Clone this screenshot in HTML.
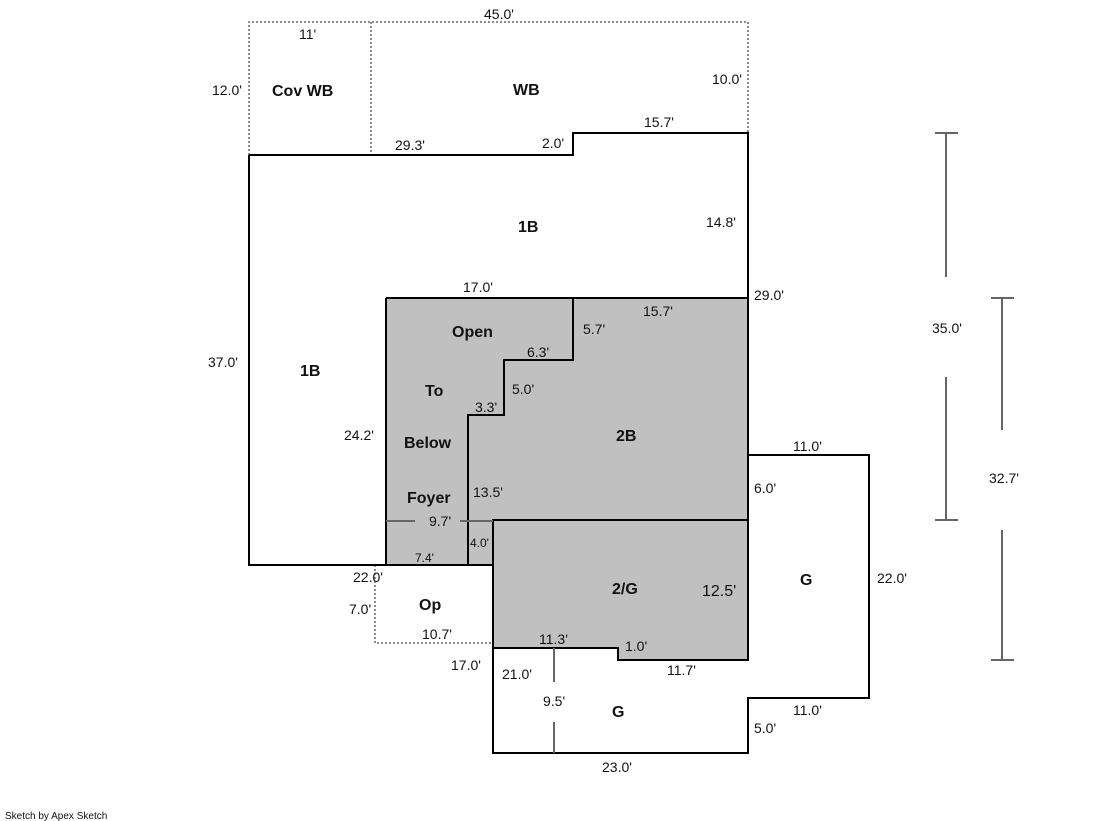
<!DOCTYPE html>
<html><head><meta charset="utf-8"><style>
html,body{margin:0;padding:0;background:#fff;}
svg{display:block;}
text{font-family:"Liberation Sans",Arial,sans-serif;font-size:14px;fill:#111;}
.b{font-weight:bold;font-size:16px;}
</style></head><body>
<svg width="1119" height="821" viewBox="0 0 1119 821" xmlns="http://www.w3.org/2000/svg">
<polygon points="386,298 748,298 748,660 618,660 618,648 493,648 493,565 386,565" fill="#c0c0c0"/>
<g fill="none" stroke="#666" stroke-width="1.5" stroke-dasharray="2,2">
<polyline points="249,155 249,22 748,22 748,133"/>
<line x1="371" y1="22" x2="371" y2="155"/>
<polyline points="375,565 375,643 493,643"/>
</g>
<g fill="none" stroke="#000" stroke-width="2">
<polyline points="249,155 573,155 573,133 748,133 748,660 618,660 618,648 493,648 493,520 748,520"/>
<polyline points="249,155 249,565 493,565"/>
<polyline points="386,298 748,298"/>
<polyline points="386,298 386,565"/>
<polyline points="573,298 573,360 504,360 504,415 468,415 468,565"/>
<polyline points="748,455 869,455 869,698 748,698 748,753 493,753 493,648"/>
</g>
<g stroke="#666" stroke-width="2" fill="none">
<line x1="386" y1="521" x2="415" y2="521"/><line x1="460" y1="521" x2="493" y2="521"/>
<line x1="554" y1="648" x2="554" y2="682"/><line x1="554" y1="722" x2="554" y2="753"/>
<line x1="946" y1="133" x2="946" y2="277"/><line x1="946" y1="377" x2="946" y2="520"/>
<line x1="935" y1="133" x2="958" y2="133"/><line x1="935" y1="520" x2="958" y2="520"/>
<line x1="1002" y1="298" x2="1002" y2="430"/><line x1="1002" y1="530" x2="1002" y2="660"/>
<line x1="991" y1="298" x2="1014" y2="298"/><line x1="991" y1="660" x2="1014" y2="660"/>
</g>
<text x="484" y="19">45.0'</text>
<text x="299" y="39">11'</text>
<text x="212" y="95">12.0'</text>
<text x="712" y="84">10.0'</text>
<text x="395" y="150">29.3'</text>
<text x="542" y="148">2.0'</text>
<text x="644" y="127">15.7'</text>
<text x="706" y="227">14.8'</text>
<text x="463" y="292">17.0'</text>
<text x="754" y="300">29.0'</text>
<text x="208" y="367">37.0'</text>
<text x="344" y="440">24.2'</text>
<text x="643" y="316">15.7'</text>
<text x="583" y="334">5.7'</text>
<text x="527" y="357">6.3'</text>
<text x="512" y="394">5.0'</text>
<text x="475" y="412">3.3'</text>
<text x="473" y="497">13.5'</text>
<text x="429" y="526">9.7'</text>
<text x="470" y="547" style="font-size:12px">4.0'</text>
<text x="415" y="562" style="font-size:12px">7.4'</text>
<text x="353" y="582">22.0'</text>
<text x="349" y="614">7.0'</text>
<text x="422" y="639">10.7'</text>
<text x="539" y="644">11.3'</text>
<text x="625" y="651">1.0'</text>
<text x="667" y="675">11.7'</text>
<text x="451" y="670">17.0'</text>
<text x="502" y="679">21.0'</text>
<text x="543" y="706">9.5'</text>
<text x="702" y="596" style="font-size:16px">12.5'</text>
<text x="793" y="451">11.0'</text>
<text x="754" y="493">6.0'</text>
<text x="877" y="583">22.0'</text>
<text x="793" y="715">11.0'</text>
<text x="754" y="733">5.0'</text>
<text x="602" y="772">23.0'</text>
<text x="932" y="333">35.0'</text>
<text x="989" y="483">32.7'</text>
<text class="b" x="272" y="96">Cov WB</text>
<text class="b" x="513" y="95">WB</text>
<text class="b" x="518" y="232">1B</text>
<text class="b" x="300" y="376">1B</text>
<text class="b" x="452" y="337">Open</text>
<text class="b" x="425" y="396">To</text>
<text class="b" x="404" y="448">Below</text>
<text class="b" x="407" y="503">Foyer</text>
<text class="b" x="616" y="441">2B</text>
<text class="b" x="612" y="594">2/G</text>
<text class="b" x="800" y="585">G</text>
<text class="b" x="612" y="717">G</text>
<text class="b" x="419" y="610">Op</text>
<text x="5" y="819" style="font-size:10px">Sketch by Apex Sketch</text>
</svg>
</body></html>
